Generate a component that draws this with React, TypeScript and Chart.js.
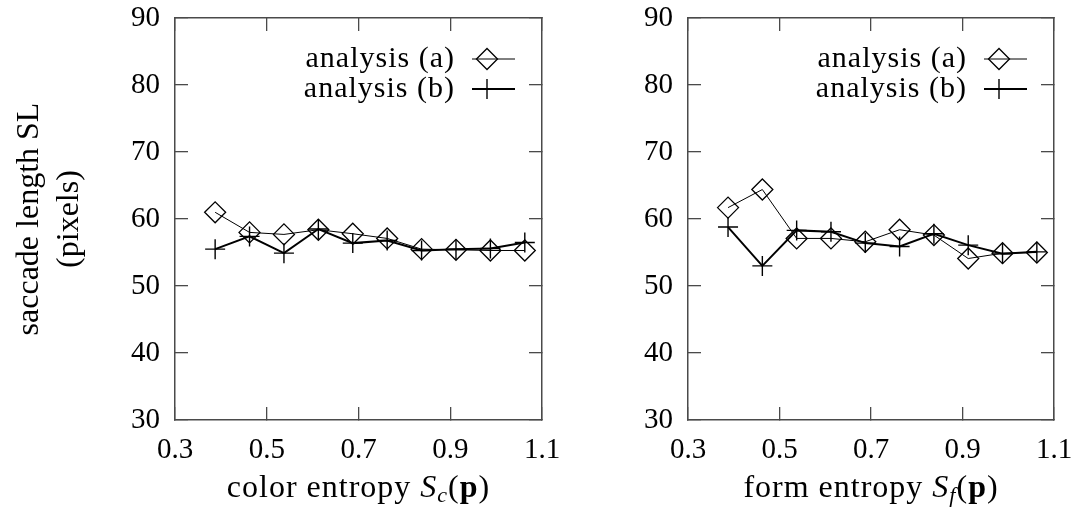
import React, { useEffect, useRef } from 'react';
import { Chart, registerables } from 'chart.js';

Chart.register(...registerables);

// ---------- data ----------
const entropyX = [0.3875, 0.4625, 0.5375, 0.6125, 0.6875, 0.7625, 0.8375, 0.9125, 0.9875, 1.0625];
const colorA = [61.0, 58.0, 57.7, 58.4, 57.8, 57.1, 55.5, 55.4, 55.3, 55.3];
const colorB = [55.5, 57.4, 54.9, 58.5, 56.4, 56.8, 55.3, 55.5, 55.6, 56.5];
const formA = [61.7, 64.4, 57.1, 57.1, 56.6, 58.4, 57.6, 54.1, 54.9, 55.0];
const formB = [58.8, 53.0, 58.3, 58.1, 56.4, 55.9, 57.8, 56.1, 54.8, 55.1];

const xTicks = [0.3, 0.5, 0.7, 0.9, 1.1];
const yTicks = [30, 40, 50, 60, 70, 80, 90];
const seriesLabels = ['analysis (a)', 'analysis (b)'];
const yTitleLines = ['saccade length SL', '(pixels)'];
const colorTitleRuns = ['color entropy ', 'S', 'c', '(', 'p', ')'];
const formTitleRuns = ['form entropy ', 'S', 'f', '(', 'p', ')'];

// ---------- styling ----------
const FONT = '"Liberation Serif", "Times New Roman", serif';
const FRAME = '#4a4a4a';
const TICK_LEN = -13;

function setTicks(values: number[]) {
  return (scale: any) => {
    scale.ticks = values.map((v) => ({ value: v }));
  };
}

function fitTo(dim: 'width' | 'height', size: number) {
  return (s: any) => {
    s[dim] = size;
    s.paddingTop = 0;
    s.paddingBottom = 0;
    s.paddingLeft = 0;
    s.paddingRight = 0;
  };
}

const legendPlugin = {
  id: 'gpLegend',
  afterDraw(chart: any) {
    const { ctx, chartArea: ca } = chart;
    ctx.save();
    ctx.font = `30px ${FONT}`;
    (ctx as any).letterSpacing = '1px';
    ctx.textAlign = 'right';
    ctx.textBaseline = 'alphabetic';
    ctx.fillStyle = '#000';
    chart.data.datasets.forEach((ds: any, i: number) => {
      const y = ca.top + 41 + i * 30;
      ctx.fillText(ds.label, ca.right - 87, y + 8);
      ctx.strokeStyle = '#000';
      ctx.lineWidth = ds.borderWidth;
      ctx.beginPath();
      ctx.moveTo(ca.right - 70, y);
      ctx.lineTo(ca.right - 27, y);
      ctx.stroke();
      const mx = ca.right - 55;
      const r = ds.pointRadius;
      ctx.lineWidth = ds.pointBorderWidth;
      ctx.beginPath();
      if (ds.pointStyle === 'rectRot') {
        ctx.moveTo(mx - r, y);
        ctx.lineTo(mx, y - r);
        ctx.lineTo(mx + r, y);
        ctx.lineTo(mx, y + r);
        ctx.closePath();
      } else {
        ctx.moveTo(mx - r, y);
        ctx.lineTo(mx + r, y);
        ctx.moveTo(mx, y - r);
        ctx.lineTo(mx, y + r);
      }
      ctx.stroke();
    });
    ctx.restore();
  },
};

function xTitlePlugin(runs: string[]) {
  return {
    id: 'gpXTitle',
    afterDraw(chart: any) {
      const { ctx, chartArea: ca } = chart;
      ctx.save();
      (ctx as any).letterSpacing = '1px';
      const styles = [
        { font: `32px ${FONT}`, dy: 0 },
        { font: `italic 32px ${FONT}`, dy: 0 },
        { font: `italic 22px ${FONT}`, dy: 5 },
        { font: `32px ${FONT}`, dy: 0 },
        { font: `bold 32px ${FONT}`, dy: 0 },
        { font: `32px ${FONT}`, dy: 0 },
      ];
      let total = 0;
      const widths = runs.map((t, i) => {
        ctx.font = styles[i].font;
        const w = ctx.measureText(t).width;
        total += w;
        return w;
      });
      let x = (ca.left + ca.right) / 2 - total / 2;
      const base = ca.bottom + 77;
      ctx.fillStyle = '#000';
      ctx.textAlign = 'left';
      ctx.textBaseline = 'alphabetic';
      runs.forEach((t, i) => {
        ctx.font = styles[i].font;
        ctx.fillText(t, x, base + styles[i].dy);
        x += widths[i];
      });
      ctx.restore();
    },
  };
}

function makeConfig(a: number[], b: number[], showYTitle: boolean, titleRuns: string[], leftW: number, rightPad: number) {
  const tickFont = { family: FONT, size: 29, lineHeight: 1.2 };
  const gridOpts = { drawOnChartArea: false, drawTicks: true, tickLength: TICK_LEN, color: FRAME, lineWidth: 1.3 };
  const borderOpts = { color: FRAME, width: 1.5 };
  return {
    type: 'line' as const,
    data: {
      datasets: [
        {
          label: seriesLabels[0],
          data: entropyX.map((x, i) => ({ x, y: a[i] })),
          borderColor: '#000',
          borderWidth: 1,
          pointStyle: 'rectRot',
          pointRadius: 10.5,
          pointBorderWidth: 1.3,
          pointBorderColor: '#000',
          pointBackgroundColor: 'rgba(0,0,0,0)',
          tension: 0,
        },
        {
          label: seriesLabels[1],
          data: entropyX.map((x, i) => ({ x, y: b[i] })),
          borderColor: '#000',
          borderWidth: 2,
          pointStyle: 'cross',
          pointRadius: 10,
          pointBorderWidth: 1.4,
          pointBorderColor: '#000',
          pointBackgroundColor: 'rgba(0,0,0,0)',
          tension: 0,
        },
      ],
    },
    options: {
      animation: false,
      responsive: false,
      devicePixelRatio: 1,
      layout: { padding: { top: 18, right: rightPad, bottom: 0, left: 0 } },
      plugins: { legend: { display: false }, tooltip: { enabled: false } },
      scales: {
        x: {
          type: 'linear',
          position: 'bottom',
          min: 0.3,
          max: 1.1,
          afterBuildTicks: setTicks(xTicks),
          afterFit: fitTo('height', 96),
          ticks: { font: tickFont, color: '#000', padding: 26, maxRotation: 0, autoSkip: false, callback: (v: any) => Number(v).toFixed(1) },
          grid: gridOpts,
          border: borderOpts,
        },
        x2: {
          type: 'linear',
          position: 'top',
          min: 0.3,
          max: 1.1,
          afterBuildTicks: setTicks(xTicks),
          afterFit: fitTo('height', 0),
          ticks: { display: false },
          grid: gridOpts,
          border: borderOpts,
        },
        y: {
          type: 'linear',
          position: 'left',
          min: 30,
          max: 90,
          afterBuildTicks: setTicks(yTicks),
          afterFit: fitTo('width', leftW),
          ticks: { font: tickFont, color: '#000', padding: 28, autoSkip: false },
          grid: gridOpts,
          border: borderOpts,
          title: {
            display: showYTitle,
            text: yTitleLines,
            color: '#000',
            font: { family: FONT, size: 32, lineHeight: 1.25 },
            padding: { top: 10, bottom: 0 },
          },
        },
        y2: {
          type: 'linear',
          position: 'right',
          min: 30,
          max: 90,
          afterBuildTicks: setTicks(yTicks),
          afterFit: fitTo('width', 0),
          ticks: { display: false },
          grid: gridOpts,
          border: borderOpts,
        },
      },
    },
    plugins: [legendPlugin, xTitlePlugin(titleRuns)],
  };
}

function Panel(props: { a: number[]; b: number[]; showYTitle: boolean; titleRuns: string[]; left: number; width: number; leftW: number; rightPad: number }) {
  const ref = useRef<HTMLCanvasElement | null>(null);
  useEffect(() => {
    if (!ref.current) return;
    const chart = new Chart(ref.current, makeConfig(props.a, props.b, props.showYTitle, props.titleRuns, props.leftW, props.rightPad) as any);
    return () => chart.destroy();
  }, []);
  return (
    <canvas
      ref={ref}
      width={props.width}
      height={516}
      style={{ position: 'absolute', left: props.left, top: 0, width: props.width, height: 516 }}
    />
  );
}

export default function App() {
  return (
    <div style={{ position: 'absolute', left: 0, top: 0, width: 1077, height: 516, background: '#fff', overflow: 'hidden' }}>
      <Panel a={colorA} b={colorB} showYTitle={true} titleRuns={colorTitleRuns} left={0} width={560} leftW={175} rightPad={560 - 542} />
      <Panel a={formA} b={formB} showYTitle={false} titleRuns={formTitleRuns} left={545} width={532} leftW={143} rightPad={532 - 509} />
    </div>
  );
}
